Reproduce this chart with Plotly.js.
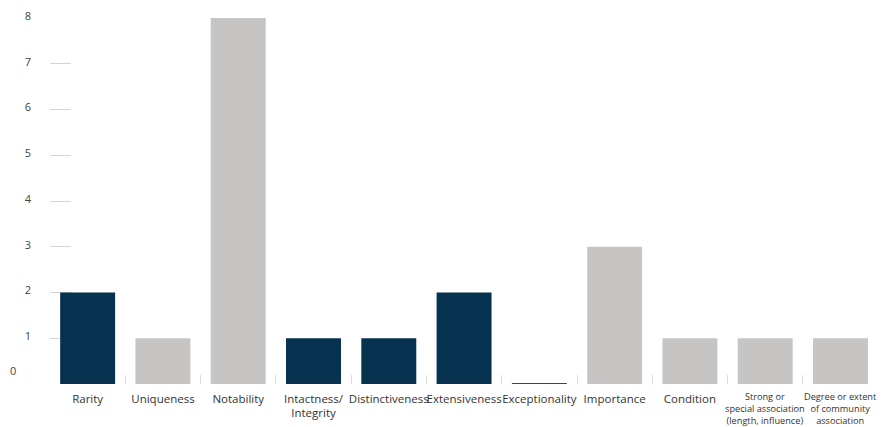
<!DOCTYPE html>
<html>
<head>
<meta charset="utf-8">
<script src="https://cdn.plot.ly/plotly-3.0.1.min.js"></script>
<style>html,body{margin:0;padding:0;background:#fff;}#chart{width:887px;height:427px;}</style>
</head>
<body>
<div id="chart"></div>
<script>
// Data
var categories = ["Rarity", "Uniqueness", "Notability", "Intactness/ Integrity", "Distinctiveness", "Extensiveness", "Exceptionality", "Importance", "Condition", "Strong or special association (length, influence)", "Degree or extent of community association"];
var tickLabels = ["Rarity", "Uniqueness", "Notability", "Intactness/<br>Integrity", "Distinctiveness", "Extensiveness", "Exceptionality", "Importance", "Condition", "", ""];
// long labels drawn in a smaller font with tighter line spacing
var smallLabels = [
  { category: "Strong or special association (length, influence)", text: "Strong or<br>special association<br>(length, influence)" },
  { category: "Degree or extent of community association", text: "Degree or extent<br>of community<br>association" }
];
var counts = [2, 1, 8, 1, 1, 2, 0, 3, 1, 1, 1];
var highlighted = [true, false, false, true, true, true, true, false, false, false, false];
var yTicks = [0, 1, 2, 3, 4, 5, 6, 7, 8];
var yTickText = ["", "1", "2", "3", "4", "5", "6", "7", "8"];

var dark = "#07324f", grey = "#c6c5c3";
var colors = counts.map(function (v, i) { return v === 0 ? "#444444" : (highlighted[i] ? dark : grey); });
// zero values are drawn as a hairline at the baseline
var shown = counts.map(function (v) { return v === 0 ? 0.022 : v; });

var trace = {
  type: "bar",
  x: categories,
  y: shown,
  marker: { color: colors, line: { width: 0 } },
  hoverinfo: "skip"
};

var annotations = [{
  text: "0", xref: "paper", yref: "y", x: 0, y: 0.3, xanchor: "right",
  xshift: -32, showarrow: false, font: { size: 11, color: "#444" }
}];
smallLabels.forEach(function (s, i) {
  annotations.push({
    text: s.text, xref: "x", yref: "paper", x: s.category, y: 0,
    xanchor: "center", yanchor: "top", yshift: -4, showarrow: false,
    align: "center", font: { size: 9.2, color: "#333" }
  });
});

var layout = {
  width: 887, height: 427,
  margin: { l: 50, r: 8, t: 18, b: 43, autoexpand: false },
  paper_bgcolor: "#fff", plot_bgcolor: "#fff",
  bargap: 0.27,
  showlegend: false,
  font: { family: "Open Sans, sans-serif", size: 11, color: "#333" },
  xaxis: {
    type: "category",
    tickvals: categories,
    ticktext: tickLabels,
    tickson: "boundaries",
    ticks: "inside",
    ticklen: 9,
    tickcolor: "#dcdcdc",
    tickwidth: 1,
    showgrid: false,
    showline: false,
    zeroline: false,
    tickangle: 0,
    ticklabelstandoff: 6,
    automargin: false,
    layer: "below traces",
    tickfont: { size: 11.5, color: "#333" }
  },
  yaxis: {
    range: [0, 8],
    tickvals: yTicks,
    ticktext: yTickText,
    ticks: "inside",
    ticklen: 21,
    tickcolor: "#d4d4d4",
    tickwidth: 1,
    showgrid: false,
    showline: false,
    zeroline: false,
    ticklabelstandoff: 18,
    ticklabelshift: -2,
    automargin: false,
    layer: "below traces",
    tickfont: { size: 11, color: "#444" }
  },
  annotations: annotations
};

Plotly.newPlot("chart", [trace], layout, { displayModeBar: false, staticPlot: true });
</script>
</body>
</html>
